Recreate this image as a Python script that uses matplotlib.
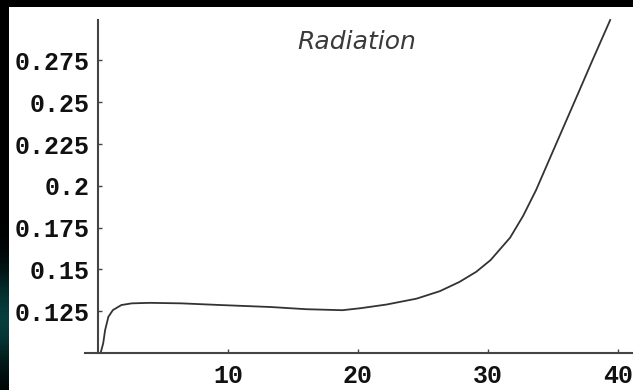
import numpy as np
import matplotlib
matplotlib.use("Agg")
import matplotlib.pyplot as plt
from matplotlib.patches import Rectangle

# values
t = [0.2, 0.4, 0.55, 0.8, 1.15, 1.8, 2.6, 4.0, 6.4, 9.4, 13.3, 16.0, 18.8,
     20.2, 22.2, 24.5, 26.3, 27.8, 29.1, 30.2, 31.7, 32.7, 33.7, 34.9,
     35.6, 37.0, 38.0, 39.4]
rad = [0.1, 0.1058, 0.1138, 0.1217, 0.1257, 0.1287, 0.1297, 0.1300, 0.1297,
       0.1287, 0.1275, 0.1262, 0.1256, 0.1268, 0.1290, 0.1325, 0.1370,
       0.1425, 0.1486, 0.1556, 0.1690, 0.1820, 0.1975, 0.2190, 0.2315,
       0.2565, 0.2745, 0.2992]

xticks = [10, 20, 30, 40]
yticks = [0.125, 0.15, 0.175, 0.2, 0.225, 0.25, 0.275]
ylabels = ['0.125', '0.15', '0.175', '0.2', '0.225', '0.25', '0.275']

W, H = 633, 390
fig = plt.figure(figsize=(W / 100, H / 100), dpi=100, facecolor='black')

# white page with black border on top and left
fig.patches.append(Rectangle((9 / W, 0), 1 - 9 / W, (H - 7) / H,
                             transform=fig.transFigure, facecolor='white',
                             edgecolor='none', zorder=-5))
# teal glow in the left strip
glow = fig.add_axes([0, 0, 9 / W, 170 / H], zorder=-4)
yy = np.linspace(0, 1, 120)[:, None]
g = np.exp(-((yy - 0.42) / 0.28) ** 2)
glow.imshow(np.dstack([0.03 * g, 0.24 * g, 0.24 * g]), aspect='auto',
            origin='lower', extent=[0, 1, 0, 1])
glow.axis('off')

ax = fig.add_axes([85 / W, (H - 353) / H, (W - 85) / W, 333 / H])
ax.set_facecolor('none')
ax.set_zorder(2)
ax.plot(t, rad, color='#333333', lw=1.3, solid_joinstyle='round',
        clip_on=False)

ax.set_xlim(-1.0, (633 - 98) / 13)
ax.set_ylim(0.1, 0.2992)

for s in ['top', 'right']:
    ax.spines[s].set_visible(False)
ax.spines['left'].set_position(('data', 0))
ax.spines['bottom'].set_position(('data', 0.1))
for s in ['left', 'bottom']:
    ax.spines[s].set_color('#444444')
    ax.spines[s].set_linewidth(1.5)

ax.set_xticks(xticks)
ax.set_xticklabels([str(v) for v in xticks])
ax.set_yticks(yticks)
ax.set_yticklabels(ylabels)
ax.tick_params(axis='both', direction='in', length=3, width=1, color='#444444')
ax.tick_params(axis='x', pad=8)
ax.tick_params(axis='y', pad=6)
for lab in ax.get_xticklabels() + ax.get_yticklabels():
    lab.set_fontfamily('Liberation Mono')
    lab.set_fontweight('bold')
    lab.set_fontsize(18)
    lab.set_color('#111111')

fig.text(357 / W, 1 - 42 / H, 'Radiation', ha='center', va='center',
         fontsize=18, fontstyle='italic', family='DejaVu Sans', color='#3a3a3a')

fig.savefig('out.png', dpi=100, facecolor=fig.get_facecolor())
